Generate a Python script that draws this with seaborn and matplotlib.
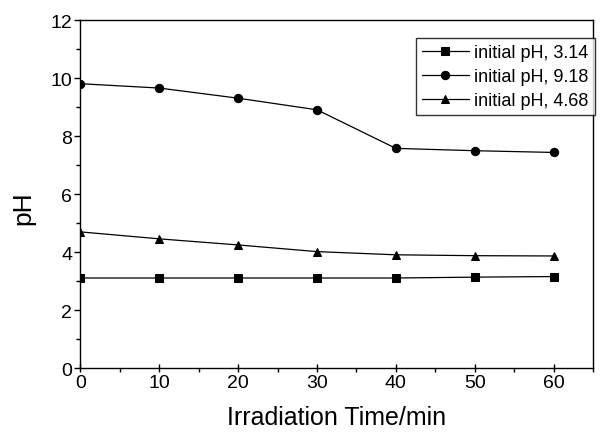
import pandas as pd
import matplotlib
matplotlib.use("Agg")
import matplotlib.pyplot as plt
import matplotlib.ticker as mticker
import seaborn as sns

# ── DATA ──────────────────────────────────────────────────────────────────────
time_min = [0, 10, 20, 30, 40, 50, 60]
ph_314 = [3.12, 3.12, 3.12, 3.12, 3.12, 3.15, 3.17]
ph_918 = [9.82, 9.67, 9.32, 8.92, 7.59, 7.51, 7.45]
ph_468 = [4.71, 4.47, 4.26, 4.03, 3.92, 3.89, 3.88]
series_labels = ["initial pH, 3.14", "initial pH, 9.18", "initial pH, 4.68"]

df = pd.concat([
    pd.DataFrame({"time": time_min, "pH": ph_314, "series": series_labels[0]}),
    pd.DataFrame({"time": time_min, "pH": ph_918, "series": series_labels[1]}),
    pd.DataFrame({"time": time_min, "pH": ph_468, "series": series_labels[2]}),
])

sns.set_style("ticks", {"text.color": "black", "axes.labelcolor": "black",
                        "xtick.color": "black", "ytick.color": "black"})
plt.rcParams["font.family"] = ["Liberation Sans", "DejaVu Sans"]

fig = plt.figure(figsize=(6.08, 4.35), dpi=100)
ax = fig.add_axes([0.1324, 0.1506, 0.8429, 0.80])

sns.lineplot(data=df, x="time", y="pH", hue="series", style="series",
             hue_order=series_labels, style_order=series_labels,
             palette=["black"] * 3, markers=["s", "o", "^"], dashes=False,
             linewidth=0.9, markersize=6, markeredgecolor="black",
             ax=ax)

# triangles a bit smaller, like the scan
for line in ax.lines:
    if line.get_marker() == "^":
        line.set_markersize(5.5)

ax.set_xlim(0, 65)
ax.set_ylim(0, 12)
ax.xaxis.set_major_locator(mticker.MultipleLocator(10))
ax.xaxis.set_minor_locator(mticker.MultipleLocator(5))
ax.yaxis.set_major_locator(mticker.MultipleLocator(2))
ax.yaxis.set_minor_locator(mticker.MultipleLocator(1))
ax.xaxis.set_major_formatter(mticker.FuncFormatter(lambda v, _: f"{int(v)}" if v <= 60 else ""))

for side in ["top", "right", "left", "bottom"]:
    ax.spines[side].set_visible(True)
    ax.spines[side].set_linewidth(1.0)
    ax.spines[side].set_color("black")

ax.tick_params(axis="x", which="major", direction="inout", length=6, width=1, labelsize=14, pad=1)
ax.tick_params(axis="x", which="minor", direction="out", length=3, width=1)
ax.tick_params(axis="y", which="major", direction="out", length=4, width=1, labelsize=14, pad=2)
ax.tick_params(axis="y", which="minor", direction="out", length=3, width=1)

ax.set_xlabel("Irradiation Time/min", fontsize=18, labelpad=10)
ax.set_ylabel("pH", fontsize=19)
ax.yaxis.set_label_coords(-0.089, 0.464)

leg = ax.legend(loc="upper left", bbox_to_anchor=(0.654, 0.950), frameon=True,
                fontsize=13, handlelength=2.6, borderpad=0.35, labelspacing=0.38,
                handletextpad=0.3, borderaxespad=0)
leg.get_frame().set_edgecolor("black")
leg.get_frame().set_linewidth(1.0)
leg.get_frame().set_boxstyle("square", pad=0)
leg.set_title(None)

fig.savefig("out.png", dpi=100)
